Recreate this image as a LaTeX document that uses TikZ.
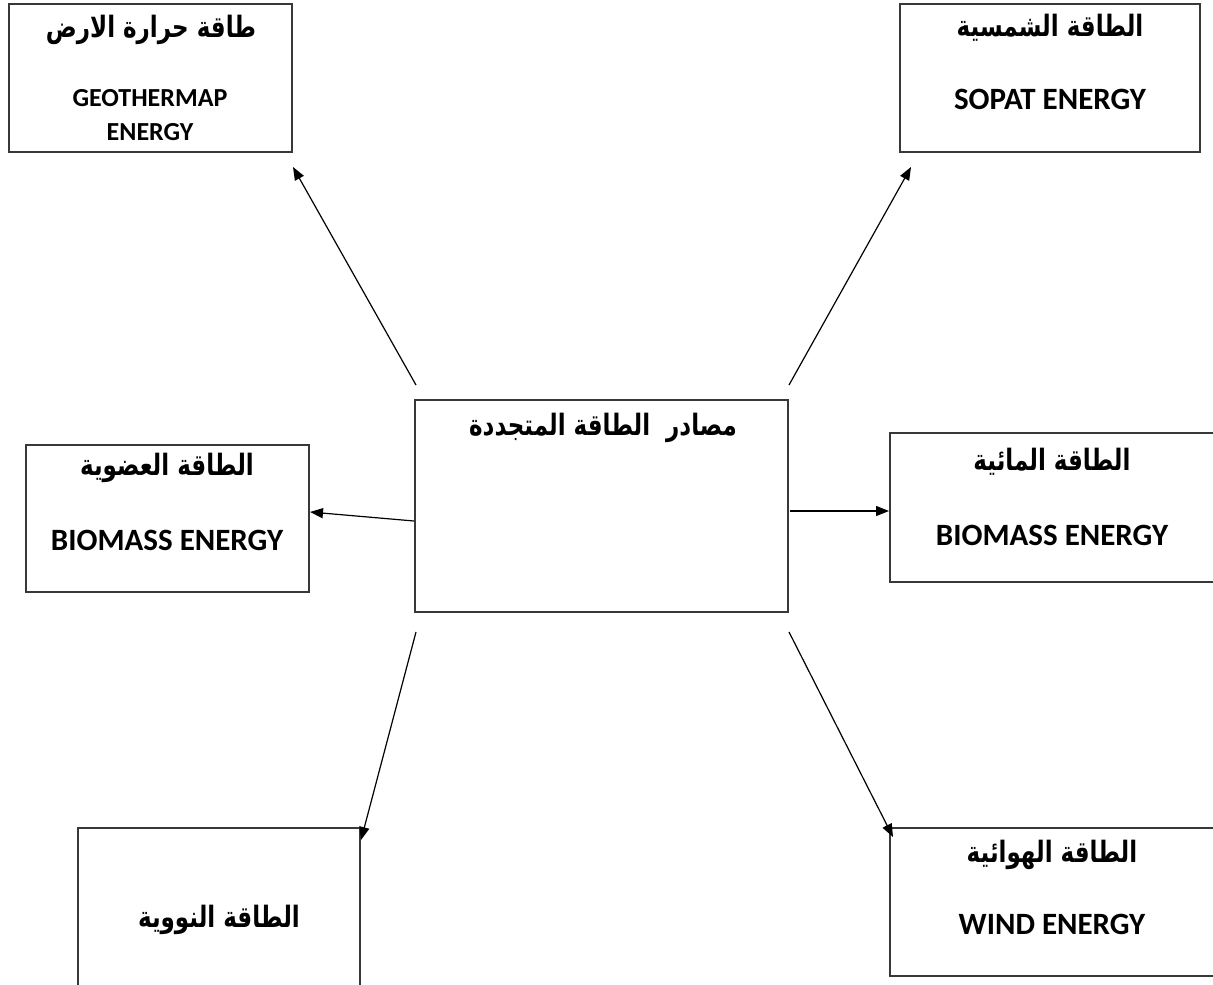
\documentclass[tikz,border=0pt]{standalone}
\usepackage{fontspec}
\setmainfont{Carlito}
\newfontfamily\arabicfont[Script=Arabic]{DejaVu Sans}
\TeXXeTstate=1
\usetikzlibrary{arrows.meta}
\newcommand{\artext}[1]{\scalebox{1}[1.28]{\beginR #1\endR}}
\begin{document}
\begin{tikzpicture}[x=1pt,y=-1pt,
  box/.style={draw=black!78,line width=1.3pt,inner sep=0pt},
  en/.style={font=\fontsize{31}{36}\selectfont\bfseries,inner sep=0pt},
  ensmall/.style={font=\fontsize{26}{30}\selectfont\bfseries,inner sep=0pt,align=center},
  ar/.style={font=\arabicfont\bfseries\fontsize{23}{28}\selectfont,inner sep=0pt},
  arr/.style={line width=1.2pt,-{Triangle[length=13pt,width=10pt]}}]
\useasboundingbox (0,0) rectangle (1213,985);
\clip (0,0) rectangle (1213,985);
\fill[white] (0,0) rectangle (1213,985);
% boxes
\node[box,minimum width=283pt,minimum height=148pt] (geo) at (150.5,78) {};
\node[box,minimum width=300pt,minimum height=148pt] (sol) at (1050,78) {};
\node[box,minimum width=373pt,minimum height=212pt] (src) at (601.5,506) {};
\node[box,minimum width=283pt,minimum height=147pt] (org) at (167.5,518.5) {};
\node[box,minimum width=335pt,minimum height=149pt] (hyd) at (1057.5,507.5) {};
\node[box,minimum width=282pt,minimum height=172pt] (nuc) at (219,914) {};
\node[box,minimum width=335pt,minimum height=148pt] (wind) at (1057.5,902) {};
% texts
\node[ar] (geoar) at (151,30) {\artext{طاقة حرارة الارض}};
\node[ensmall] (geoen) at (150,115) {GEOTHERMAP\\[4pt]ENERGY};
\node[ar] (solar) at (1050,28) {\artext{الطاقة الشمسية}};
\node[en] (solen) at (1050,99) {SOPAT ENERGY};
\node[ar] (srcar) at (603,428) {\artext{مصادر\ \ الطاقة المتجددة}};
\node[ar] (orgar) at (167,468) {\artext{الطاقة العضوية}};
\node[en] (orgen) at (167,540) {BIOMASS ENERGY};
\node[ar] (hydar) at (1052,462) {\artext{الطاقة المائية}};
\node[en] (hyden) at (1052,535) {BIOMASS ENERGY};
\node[ar] (nucar) at (219,920) {\artext{الطاقة النووية}};
\node[ar] (windar) at (1052,855) {\artext{الطاقة الهوائية}};
\node[en] (winden) at (1052,924) {WIND ENERGY};
% arrow ends
\coordinate (s1) at (416,385); \coordinate (e1) at (293,167);
\coordinate (s2) at (789,385); \coordinate (e2) at (911,167);
\coordinate (s3) at (414,521); \coordinate (e3) at (310,512);
\coordinate (s4) at (790,511); \coordinate (e4) at (889,511);
\coordinate (s5) at (416,632); \coordinate (e5) at (361,840);
\coordinate (s6) at (789,632); \coordinate (e6) at (893,837);
\draw[arr] (s1) -- (e1);
\draw[arr] (s2) -- (e2);
\draw[arr] (s3) -- (e3);
\draw[arr] (s4) -- (e4);
\draw[arr] (s5) -- (e5);
\draw[arr] (s6) -- (e6);
\end{tikzpicture}
\end{document}
